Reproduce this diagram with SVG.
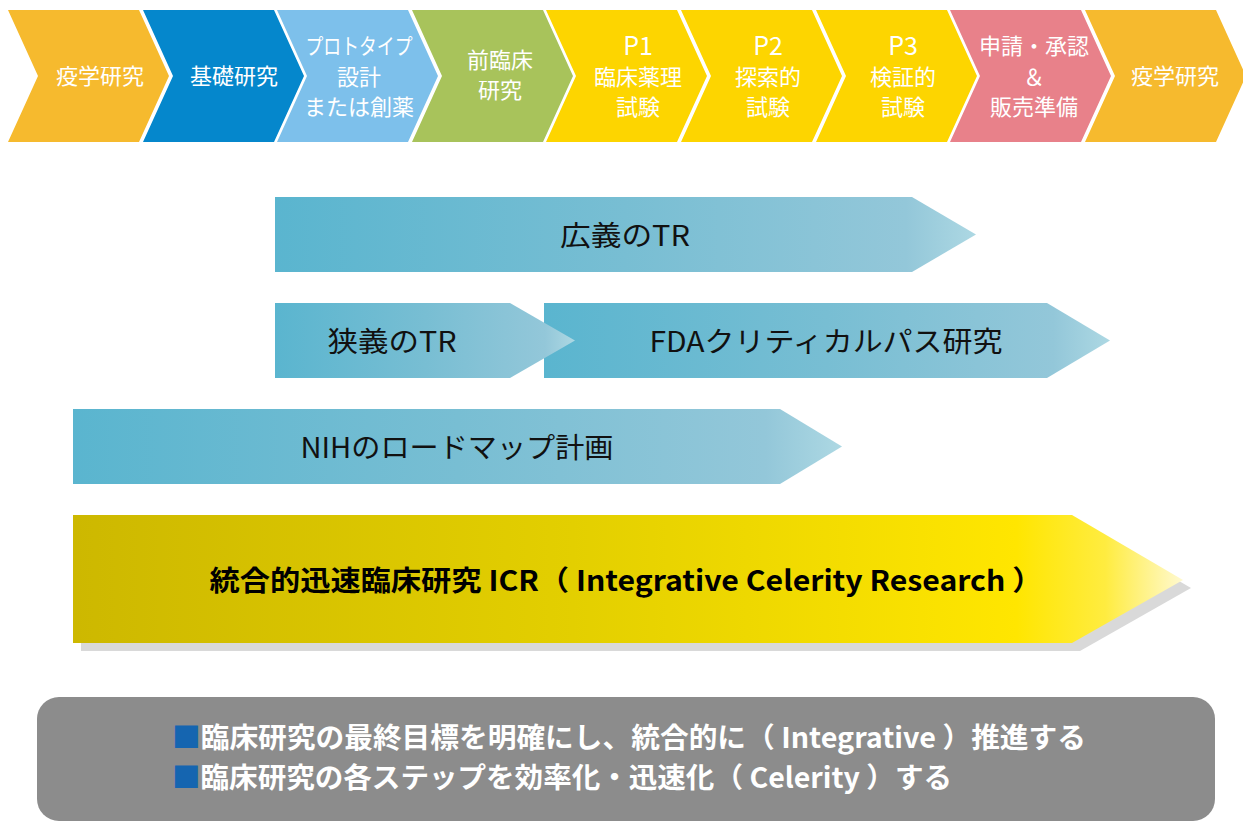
<svg xmlns="http://www.w3.org/2000/svg" width="1243" height="823" viewBox="0 0 1243 823">
<defs>
<style>
.ct{font-family:"Noto Sans CJK JP","Noto Sans",sans-serif;font-size:22px;fill:#fff;text-anchor:middle}
.pt{font-family:"Noto Sans CJK JP","Noto Sans",sans-serif;font-size:25px;fill:#fff;text-anchor:middle}
.bt{font-family:"Noto Sans CJK JP","Noto Sans",sans-serif;font-size:28px;fill:#111;text-anchor:middle}
.it{font-family:"Noto Sans CJK JP","Noto Sans",sans-serif;font-size:28px;font-weight:bold;fill:#000;text-anchor:middle}
.gt{font-family:"Noto Sans CJK JP","Noto Sans",sans-serif;font-size:28px;font-weight:bold;fill:#fff}
</style>
<linearGradient id="gBlue" x1="0" y1="0" x2="1" y2="0">
<stop offset="0" stop-color="#5AB5CF"/>
<stop offset="0.5" stop-color="#78BED3"/>
<stop offset="0.9" stop-color="#93C7D9"/>
<stop offset="1" stop-color="#ADD8E3"/>
</linearGradient>
<linearGradient id="gYel" x1="0" y1="0" x2="1" y2="0">
<stop offset="0" stop-color="#CDB800"/>
<stop offset="0.45" stop-color="#E3CF00"/>
<stop offset="0.85" stop-color="#FFE600"/>
<stop offset="0.93" stop-color="#FFEC40"/>
<stop offset="1" stop-color="#FFF9D0"/>
</linearGradient>
</defs>
<rect width="1243" height="823" fill="#fff"/>

<g id="step1"><polygon points="8,10 139,10 169,76 139,142 8,142 38,76" fill="#F6BA2E"/><text class="ct" x="100" y="84">疫学研究</text></g>
<g id="step2"><polygon points="143,10 274,10 304,76 274,142 143,142 173,76" fill="#0587CC"/><text class="ct" x="234" y="84">基礎研究</text></g>
<g id="step3"><polygon points="277,10 408,10 438,76 408,142 277,142 307,76" fill="#7DC0EB"/><text class="ct" x="359" y="54" textLength="107" lengthAdjust="spacingAndGlyphs">プロトタイプ</text><text class="ct" x="359" y="85">設計</text><text class="ct" x="359" y="115">または創薬</text></g>
<g id="step4"><polygon points="412,10 543,10 573,76 543,142 412,142 442,76" fill="#A8C35B"/><text class="ct" x="500" y="68">前臨床</text><text class="ct" x="500" y="98">研究</text></g>
<g id="step5"><polygon points="546,10 677,10 707,76 677,142 546,142 576,76" fill="#FDD500"/><text class="pt" x="638" y="55">P1</text><text class="ct" x="638" y="85">臨床薬理</text><text class="ct" x="638" y="115">試験</text></g>
<g id="step6"><polygon points="681,10 812,10 842,76 812,142 681,142 711,76" fill="#FDD500"/><text class="pt" x="768" y="55">P2</text><text class="ct" x="768" y="85">探索的</text><text class="ct" x="768" y="115">試験</text></g>
<g id="step7"><polygon points="816,10 947,10 977,76 947,142 816,142 846,76" fill="#FDD500"/><text class="pt" x="903" y="55">P3</text><text class="ct" x="903" y="85">検証的</text><text class="ct" x="903" y="115">試験</text></g>
<g id="step8"><polygon points="950,10 1081,10 1111,76 1081,142 950,142 980,76" fill="#E8818A"/><text class="ct" x="1034" y="54">申請・承認</text><text class="ct" x="1034" y="85">＆</text><text class="ct" x="1034" y="115">販売準備</text></g>
<g id="step9"><polygon points="1085,10 1216,10 1246,76 1216,142 1085,142 1115,76" fill="#F6BA2E"/><text class="ct" x="1175" y="84">疫学研究</text></g>

<g id="broadTR"><polygon points="275,197 912,197 976,234.5 912,272 275,272" fill="url(#gBlue)"/><text class="bt" x="625" y="246" textLength="130" lengthAdjust="spacingAndGlyphs">広義のTR</text></g>
<g id="fda"><polygon points="544,303 1047,303 1110,340.5 1047,378 544,378" fill="url(#gBlue)"/><text class="bt" x="826" y="352" textLength="353" lengthAdjust="spacingAndGlyphs">FDAクリティカルパス研究</text></g>
<g id="narrowTR"><polygon points="275,303 510,303 575,340.5 510,378 275,378" fill="url(#gBlue)"/><text class="bt" x="392" y="352" textLength="129" lengthAdjust="spacingAndGlyphs">狭義のTR</text></g>
<g id="nih"><polygon points="73,409 780,409 842,446.5 780,484 73,484" fill="url(#gBlue)"/><text class="bt" x="457" y="458" textLength="313" lengthAdjust="spacingAndGlyphs">NIHのロードマップ計画</text></g>

<g id="icr">
<polygon points="81,523 1080,523 1191,588 1080,651 81,651" fill="#D9D9D9"/>
<polygon points="73,515 1072,515 1183,580 1072,643 73,643" fill="url(#gYel)"/>
<text class="it" x="626" y="591" textLength="833" lengthAdjust="spacingAndGlyphs">統合的迅速臨床研究 ICR（ Integrative Celerity Research ）</text>
</g>

<g id="summary">
<rect x="37" y="697" width="1178" height="124" rx="22" fill="#8C8C8C"/>
<text class="gt" x="172" y="748" textLength="914" lengthAdjust="spacingAndGlyphs"><tspan fill="#1565B0">■</tspan>臨床研究の最終目標を明確にし、統合的に（ Integrative ）推進する</text>
<text class="gt" x="172" y="788" textLength="780" lengthAdjust="spacingAndGlyphs"><tspan fill="#1565B0">■</tspan>臨床研究の各ステップを効率化・迅速化（ Celerity ）する</text>
</g>
<g id="connectors"/>
</svg>
